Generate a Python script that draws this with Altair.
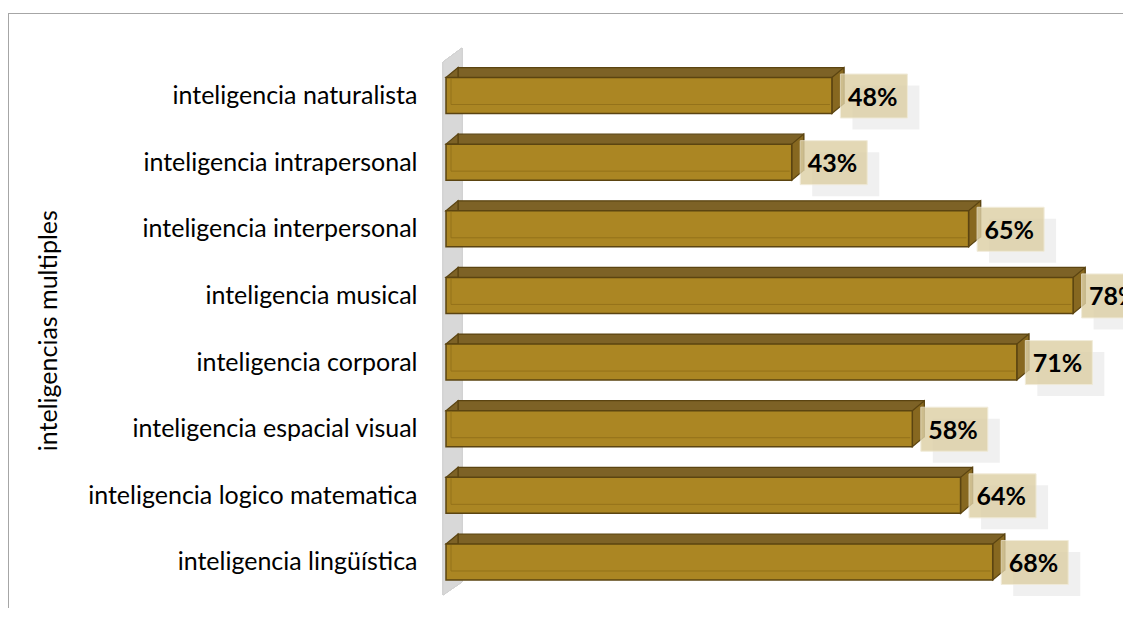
import json
import altair as alt
import pandas as pd

categories = [
    "inteligencia naturalista",
    "inteligencia intrapersonal",
    "inteligencia interpersonal",
    "inteligencia musical",
    "inteligencia corporal",
    "inteligencia espacial visual",
    "inteligencia logico matematica",
    "inteligencia lingüística",
]
values = [48, 43, 65, 78, 71, 58, 64, 68]
value_labels = ["48%", "43%", "65%", "78%", "71%", "58%", "64%", "68%"]
axis_title = "inteligencias multiples"

df = pd.DataFrame({
    "cat": categories,
    "idx": list(range(len(categories))),
    "v": values,
    "lab": value_labels,
})

PX = 8.04          # pixels per percent
W = 677
H = 533.1
FONT = "Lato"

FRONT = "#ab8623"
TOP = "#7d6226"
SIDE = "#876820"
STROKE = "#5b4411"
BEVEL = "#94721a"

x_scale = alt.Scale(domain=[0, W / PX], nice=False, zero=True)
y_scale = alt.Scale(domain=[-0.5, 7.5], reverse=True, nice=False, zero=False)

y_axis = alt.Axis(
    values=list(range(len(categories))),
    labelExpr=json.dumps(categories) + "[datum.value]",
    domain=False, ticks=False, grid=False, labelLimit=0,
    labelPadding=29, labelFont=FONT, labelFontSize=25, labelColor="#000000",
    title=axis_title, titleFont=FONT, titleFontSize=25, titleFontWeight="normal",
    titleColor="#000000", titleAngle=270, titleAlign="center", titleBaseline="middle",
    titleX=-398, titleY=268,
)

def X(f):
    return alt.X(f, scale=x_scale, axis=None)

def Y(f):
    return alt.Y(f, scale=y_scale, axis=y_axis, title=axis_title)

base = alt.Chart(df).transform_calculate(
    y_lo="datum.idx - 0.27", y_hi="datum.idx + 0.27", zero="0"
)

# chart-area border (decoration)
border_top = alt.Chart(df).mark_rule(color="#a6a6a6", strokeWidth=1).encode(
    x=alt.value(-437.5), x2=alt.value(W), y=alt.value(-48.7)
)
border_left = alt.Chart(df).mark_rule(color="#a6a6a6", strokeWidth=1).encode(
    x=alt.value(-437.5), y=alt.value(-48.7), y2=alt.value(H + 20)
)

# back wall (decoration)
wall_path = "M-0.0347,-0.9488 L0.0347,-1 L0.0347,0.9525 L-0.0347,1 Z"
wall = alt.Chart(df).mark_point(
    shape=wall_path, filled=True, fill="#d8d8d8", stroke="#cfcfcf",
    strokeWidth=0.5, opacity=1, size=547 ** 2,
).encode(x=alt.value(6.5), y=alt.value(259.3))

# shadows of the value boxes
box_path = "M-1,-0.657 L1,-0.657 L1,0.657 L-1,0.657 Z"
shadow = base.mark_point(
    shape=box_path, filled=True, fill="#cccccc", opacity=0.3, size=4489,
    xOffset=54, yOffset=12, strokeWidth=0,
).encode(x=X("v:Q"), y=Y("idx:Q"))

# top face (back rectangle shifted up/right)
top_face = base.mark_rect(
    fill=TOP, stroke=STROKE, strokeWidth=1.2,
    xOffset=12, x2Offset=12, yOffset=-10, y2Offset=-10,
).encode(x=X("zero:Q"), x2="v:Q", y=Y("y_lo:Q"), y2="y_hi:Q")

left_tri = base.mark_point(
    shape="M0,-1 L0.667,-1.556 L0.667,-1 Z", filled=True, fill=TOP,
    stroke=STROKE, strokeWidth=1.2, opacity=1, size=1296,
).encode(x=X("zero:Q"), y=Y("idx:Q"))

right_face = base.mark_point(
    shape="M0,-1 L0.667,-1.556 L0.667,0.444 L0,1 Z", filled=True, fill=SIDE,
    stroke=STROKE, strokeWidth=1.2, opacity=1, size=1296,
).encode(x=X("v:Q"), y=Y("idx:Q"))

front = base.mark_rect(fill=FRONT, stroke=STROKE, strokeWidth=1.5).encode(
    x=X("zero:Q"), x2="v:Q", y=Y("y_lo:Q"), y2="y_hi:Q"
)

bevel_bottom = base.mark_rule(
    color=BEVEL, strokeWidth=1, xOffset=5, x2Offset=-2, yOffset=-9
).encode(x=X("zero:Q"), x2="v:Q", y=Y("y_hi:Q"))
bevel_left = base.mark_rule(
    color=BEVEL, strokeWidth=1, xOffset=5, yOffset=1, y2Offset=-9
).encode(x=X("zero:Q"), y=Y("y_lo:Q"), y2="y_hi:Q")

box = base.mark_point(
    shape=box_path, filled=True, fill="#ddd0a6", stroke="#efe8d2",
    strokeWidth=1, opacity=0.82, size=4489, xOffset=42, yOffset=0.5,
).encode(x=X("v:Q"), y=Y("idx:Q"))

text = base.mark_text(
    align="left", baseline="middle", xOffset=16, dy=2,
    font=FONT, fontSize=25, fontWeight="bold", color="#000000",
).encode(x=X("v:Q"), y=Y("idx:Q"), text="lab:N")

chart = alt.layer(
    border_top, border_left, wall, shadow, top_face, left_tri, right_face,
    front, bevel_bottom, bevel_left, box, text,
).properties(
    width=W, height=H,
    autosize=alt.AutoSizeParams(type="none"),
    padding={"left": 438, "top": 54.2, "right": 0, "bottom": 12.7},
    background="#ffffff",
).configure_view(stroke=None)

chart.save("out.html", embed_options={"renderer": "svg", "actions": False})
